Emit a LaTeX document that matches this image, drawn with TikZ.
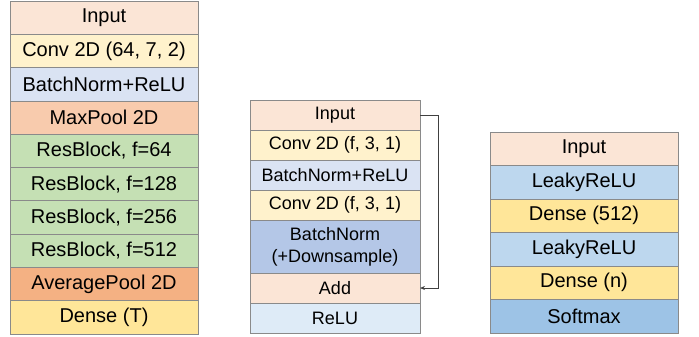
\documentclass[tikz,border=0pt]{standalone}
\usepackage{fontspec}
\setmainfont{Liberation Sans}
\usetikzlibrary{positioning,arrows.meta}
\definecolor{inputc}{HTML}{FBE5D6}
\definecolor{convc}{HTML}{FFF2CC}
\definecolor{bnc}{HTML}{DAE3F3}
\definecolor{maxc}{HTML}{F8CBAD}
\definecolor{resc}{HTML}{C5E0B4}
\definecolor{avgc}{HTML}{F4B183}
\definecolor{densec}{HTML}{FFE699}
\definecolor{bndc}{HTML}{B4C7E7}
\definecolor{reluc}{HTML}{DEEBF7}
\definecolor{leakyc}{HTML}{BDD7EE}
\definecolor{softc}{HTML}{9DC3E6}
\definecolor{edgec}{HTML}{8A8A8A}
\newlength{\colwidth}
\newlength{\rowheight}
\newcommand{\layer}[4]{
  \node[layer, fill=#3, below=0pt of #2] (#1) {#4};
}

\begin{document}
\begin{tikzpicture}[x=1pt, y=-1pt,
    layer/.style={draw=edgec, line width=0.8pt, outer sep=0pt, inner sep=0pt,
      minimum width=\colwidth, minimum height=\rowheight, align=center},
    skip/.style={draw=black!75, line width=0.9pt, -{Stealth[length=5pt, width=4pt]}}]
  \useasboundingbox (0, 0) rectangle (699, 337);

  \setlength{\colwidth}{188pt}
  \setlength{\rowheight}{33.3pt}
  \begin{scope}[font=\fontsize{20}{24}\selectfont]
    \node[layer, fill=inputc, anchor=north west] (inl) at (10, 1) {Input};
    \layer{cvl}{inl}{convc}{Conv 2D (64, 7, 2)}
    \layer{bnl}{cvl}{bnc}{BatchNorm+ReLU}
    \layer{mp}{bnl}{maxc}{MaxPool 2D}
    \foreach \f/\p in {64/mp, 128/rb64, 256/rb128, 512/rb256}{
      \layer{rb\f}{\p}{resc}{ResBlock, f=\f}
    }
    \layer{ap}{rb512}{avgc}{AveragePool 2D}
    \layer{dt}{ap}{densec}{Dense (T)}
  \end{scope}

  \setlength{\colwidth}{170pt}
  \setlength{\rowheight}{30pt}
  \begin{scope}[font=\fontsize{18}{22}\selectfont]
    \node[layer, fill=inputc, anchor=north west] (inm) at (250, 100) {Input};
    \layer{cva}{inm}{convc}{Conv 2D (f, 3, 1)}
    \layer{bnm}{cva}{bnc}{BatchNorm+ReLU}
    \layer{cvb}{bnm}{convc}{Conv 2D (f, 3, 1)}
    \node[layer, fill=bndc, minimum height=53pt, below=0pt of cvb] (bnd)
      {BatchNorm\\(+Downsample)};
    \layer{add}{bnd}{inputc}{Add}
    \layer{rl}{add}{reluc}{ReLU}
    \draw[skip] (inm.east) -- ++(18, 0) |- (add.east);
  \end{scope}

  \setlength{\colwidth}{188pt}
  \setlength{\rowheight}{33.5pt}
  \begin{scope}[font=\fontsize{20}{24}\selectfont]
    \node[layer, fill=inputc, anchor=north west] (inr) at (490, 132) {Input};
    \layer{lra}{inr}{leakyc}{LeakyReLU}
    \layer{dsa}{lra}{densec}{Dense (512)}
    \layer{lrb}{dsa}{leakyc}{LeakyReLU}
    \layer{dsb}{lrb}{densec}{Dense (n)}
    \layer{sm}{dsb}{softc}{Softmax}
  \end{scope}
\end{tikzpicture}
\end{document}
